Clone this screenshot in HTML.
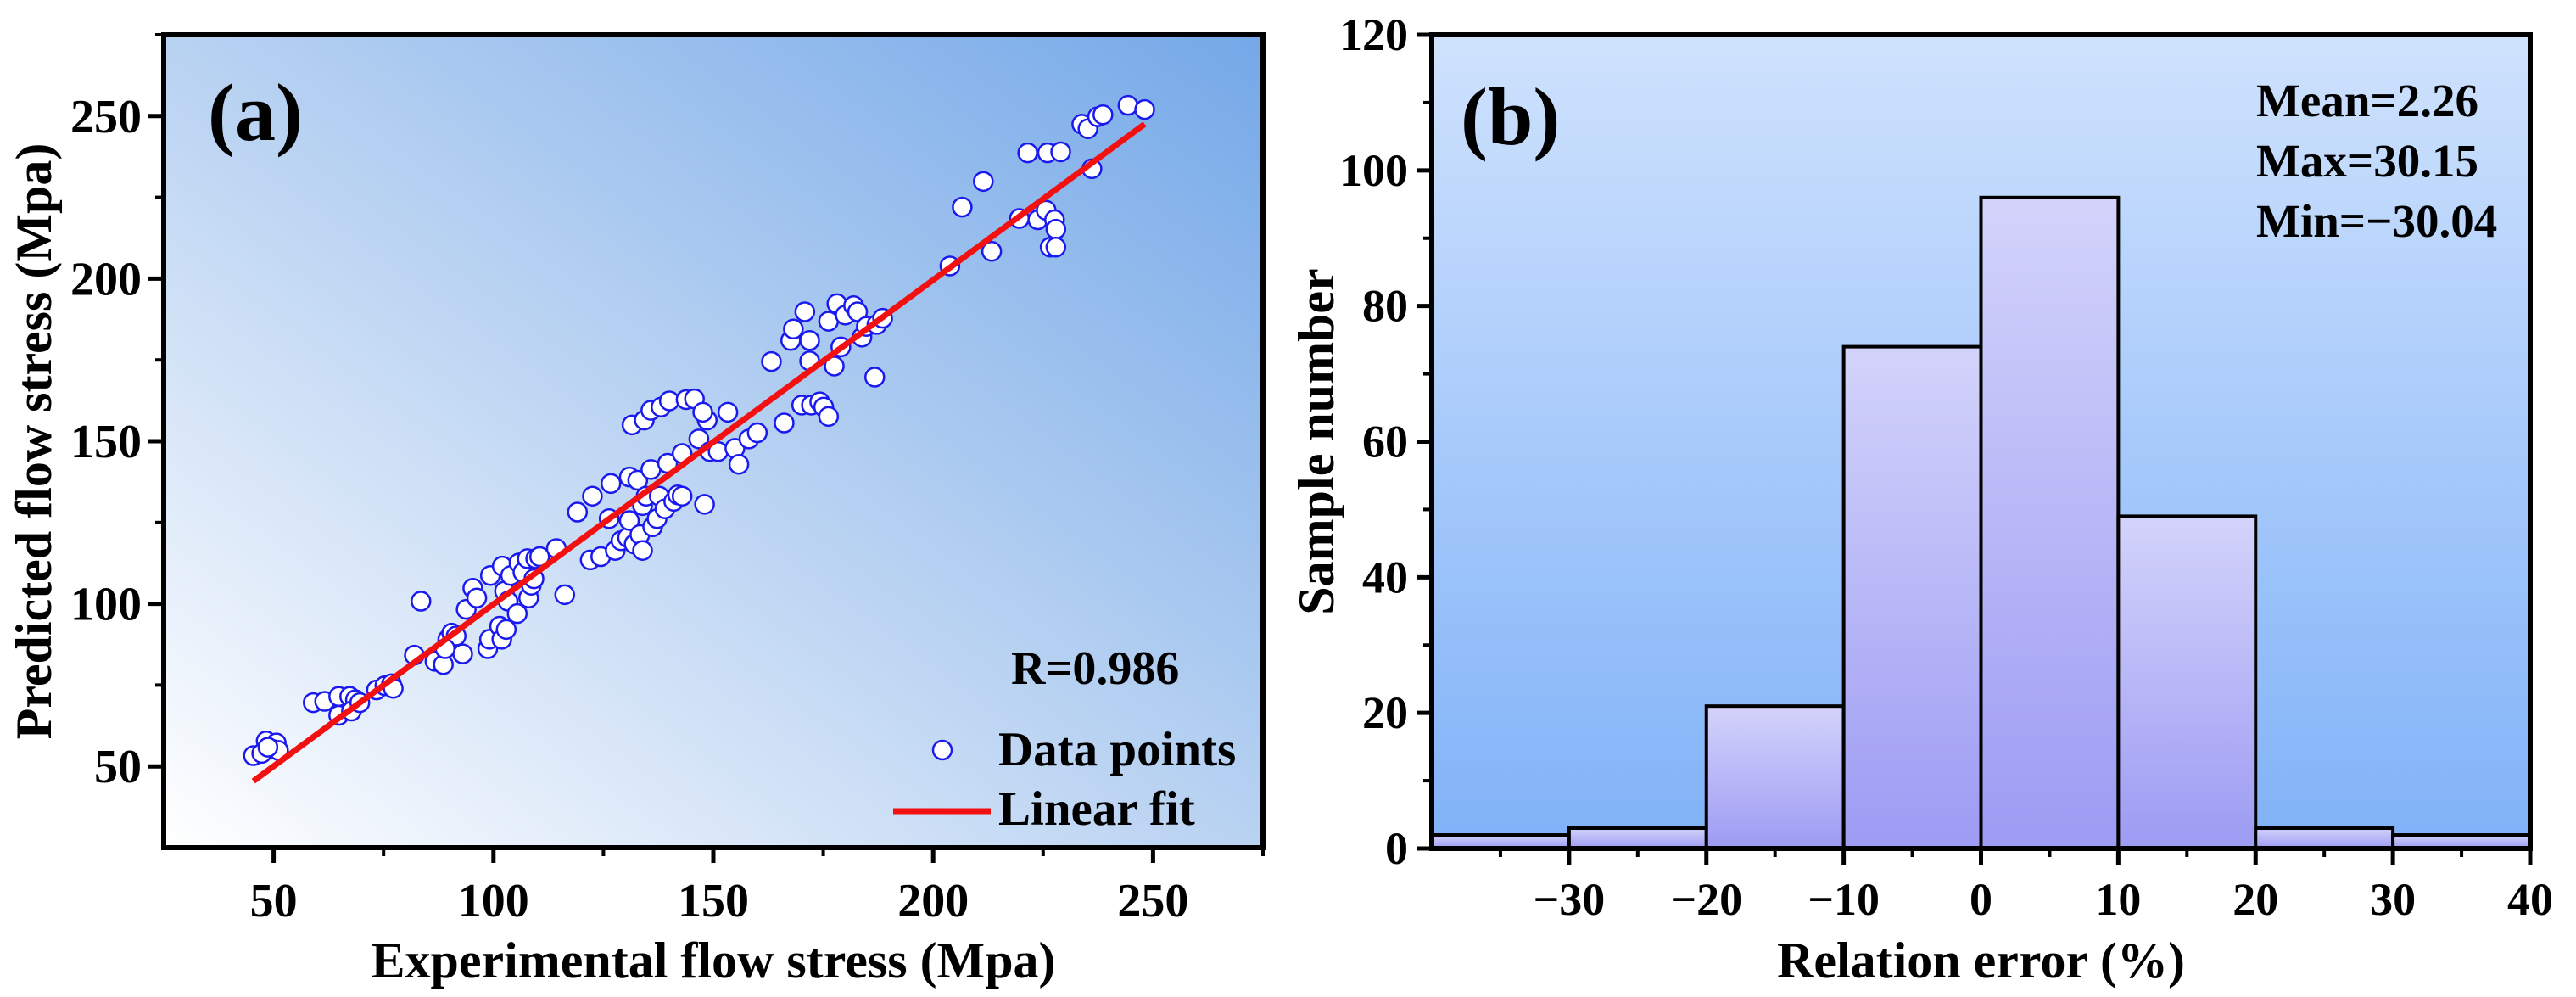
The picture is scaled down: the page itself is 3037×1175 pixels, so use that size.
<!DOCTYPE html>
<html><head><meta charset="utf-8"><style>
html,body{margin:0;padding:0;background:#fff;}
svg{display:block;font-family:"Liberation Serif",serif;font-weight:bold;}
</style></head><body>
<svg id="chart" width="3037" height="1175" viewBox="0 0 3037 1175" xmlns="http://www.w3.org/2000/svg">
<defs>
<linearGradient id="gA" x1="0" y1="1" x2="1" y2="0"><stop offset="0" stop-color="#ffffff"/><stop offset="0.5" stop-color="#b8d2f2"/><stop offset="1" stop-color="#74a8e8"/></linearGradient>
<linearGradient id="gB" x1="0" y1="0" x2="0" y2="1"><stop offset="0" stop-color="#cfe2fd"/><stop offset="1" stop-color="#80b2f8"/></linearGradient>
<linearGradient id="gBar" x1="0" y1="0" x2="0" y2="1"><stop offset="0" stop-color="#d3d3fb"/><stop offset="1" stop-color="#9d9bf3"/></linearGradient>
</defs>
<g id="panelA"></g>
<g id="panelB"></g>
</svg>
<script>
// Panel (a) data
const expX = [45.4,48.3,50.6,49.6,51.1,47.3,48.7,59,61.6,64.8,67.3,68.6,64.8,67.7,69.6,73.4,75.3,76.8,77.2,82,83.5,86.7,88.6,89.6,90.5,91.5,93,89,93.8,95.3,96.2,98.7,99.1,99.3,101.4,101.9,102.5,102.9,103.3,102,103.9,105.8,105.4,106.7,107.7,108,108.6,109.2,109.6,110.5,114.3,116.2,119.1,122,122.5,124.4,126.3,126.7,127.7,129,130.5,130.9,130.9,131.5,132,132.8,133.3,133.9,134.3,133.9,134.7,135.8,135.8,136.2,137.2,138.1,137.7,139,139.6,140,141,141.9,142.9,143.8,142.9,145.7,146.7,148,148.6,147.6,149.2,151.1,153.3,154.9,155.8,158.1,160,163.2,166.1,167.6,168.2,170.1,170.8,171.9,171.9,172.3,174.2,175.1,176.2,176.2,177.5,178.1,179,180,181.9,182.8,183.8,184.8,186.7,187.2,188.5,203.8,206.6,211.4,213.3,219.6,221.5,223.8,225.7,226,226.6,227.6,227.9,227.9,229,233.8,235.2,236.1,237.4,238.6,244.3,248.1];
const predY = [53.3,57.8,57.2,55.3,54.9,54,55.9,69.6,70,71.5,71.5,70.5,65.7,67,69.6,73.5,74.8,75.4,74,84.2,100.8,82.3,81.3,89.1,91,90.1,84.6,86.2,98.3,104.8,101.8,86.2,89.1,108.7,93.1,89.1,103.9,92.1,100.8,111.6,108.7,112.6,97,109.7,113.9,101.8,105.7,107.7,113.9,114.5,117,102.8,128.2,113.5,133.1,114.5,126.2,137,116.4,119.4,120.4,125.6,139,155,118.4,138,121.3,116.4,156.5,130.2,133.1,159.5,141.3,123.7,126.2,160.5,133.1,129.2,143.2,162.4,131.5,133.5,146.2,162.8,133.1,163,150.7,130.6,156.5,158.9,146.8,146.8,158.9,147.8,142.9,150.7,152.6,174.5,155.6,181,184.5,161.1,189.8,181,174.7,161.1,162.1,160.5,157.6,186.9,173.1,192.3,179,188.8,191.7,189.8,182,185.3,169.7,185.9,187.8,203.9,222,229.9,208.4,218.5,238.7,218.1,221,238.7,209.7,218.1,215.2,209.7,239,247.5,246.1,233.8,249.8,250.4,253.3,252];
const fitRange = [45.4, 248.1];
const fitCoef = [0.2, 0.997];
const aTicks = [50,100,150,200,250];
const aTickLabels = ["50","100","150","200","250"];
// Panel (b) data
const binEdges = [-40,-30,-20,-10,0,10,20,30,40];
const binCounts = [2,3,21,74,96,49,3,2];
const bXTicks = [-30,-20,-10,0,10,20,30,40];
const bXLabels = ["\u221230","\u221220","\u221210","0","10","20","30","40"];
const bYTicks = [0,20,40,60,80,100,120];
const bYLabels = ["0","20","40","60","80","100","120"];

const NS="http://www.w3.org/2000/svg";
function mk(parent,tag,attrs,text){const e=document.createElementNS(NS,tag);for(const k in attrs)e.setAttribute(k,attrs[k]);if(text!==undefined)e.textContent=text;parent.appendChild(e);return e;}

// ---- Panel A ----
const A={l:193,r:1489,t:41,b:999,min:25,max:275};
const ax=v=>A.l+(v-A.min)/(A.max-A.min)*(A.r-A.l);
const ay=v=>A.b-(v-A.min)/(A.max-A.min)*(A.b-A.t);
const gA=document.getElementById('panelA');
let e;
e=mk(gA,'rect',{x:A.l,y:A.t,width:A.r-A.l,height:A.b-A.t,fill:'url(#gA)'});


aTicks.forEach((v,i)=>{
 e=mk(gA,'line',{x1:ax(v),x2:ax(v),y1:A.b,y2:A.b+18,stroke:'#000','stroke-width':5});
 
 
 e=mk(gA,'line',{x1:ax(v+25),x2:ax(v+25),y1:A.b,y2:A.b+10,stroke:'#000','stroke-width':4});
 
 
 e=mk(gA,'text',{x:ax(v),y:1080,'text-anchor':'middle','font-size':56},aTickLabels[i]);
 
 
 e=mk(gA,'line',{x1:A.l-18,x2:A.l,y1:ay(v),y2:ay(v),stroke:'#000','stroke-width':5});
 
 
 e=mk(gA,'line',{x1:A.l-10,x2:A.l,y1:ay(v+25),y2:ay(v+25),stroke:'#000','stroke-width':4});
 
 
 e=mk(gA,'text',{x:A.l-26,y:ay(v)+19,'text-anchor':'end','font-size':56},aTickLabels[i]);
 
 
});
expX.forEach((x,i)=>{
 e=mk(gA,'circle',{cx:ax(x),cy:ay(predY[i]),r:11,fill:'#fff',stroke:'#1a1aee','stroke-width':2.5});
 
 
});
e=mk(gA,'line',{x1:ax(fitRange[0]),y1:ay(fitCoef[0]+fitCoef[1]*fitRange[0]),x2:ax(fitRange[1]),y2:ay(fitCoef[0]+fitCoef[1]*fitRange[1]),stroke:'#f21010','stroke-width':7});


e=mk(gA,'rect',{x:A.l,y:A.t,width:A.r-A.l,height:A.b-A.t,fill:'none',stroke:'#000','stroke-width':6});


e=mk(gA,'text',{x:245,y:165,'font-size':96},'(a)');


e=mk(gA,'text',{x:1192,y:806,'font-size':56},'R=0.986');


e=mk(gA,'circle',{cx:1111,cy:884,r:11,fill:'#fff',stroke:'#1a1aee','stroke-width':2.5});


e=mk(gA,'text',{x:1177,y:902,'font-size':57},'Data points');


e=mk(gA,'line',{x1:1053,x2:1168,y1:956,y2:956,stroke:'#f21010','stroke-width':7});


e=mk(gA,'text',{x:1177,y:972,'font-size':57},'Linear fit');


e=mk(gA,'text',{x:(A.l+A.r)/2,y:1152,'text-anchor':'middle','font-size':60},'Experimental flow stress (Mpa)');


e=mk(gA,'text',{x:0,y:0,'text-anchor':'middle','font-size':60,transform:'translate(60,'+(A.t+A.b)/2+') rotate(-90)'},'Predicted flow stress (Mpa)');



// ---- Panel B ----
const B={l:1688,r:2983,t:41,b:1000,xmin:-40,xmax:40,ymin:0,ymax:120};
const bx=v=>B.l+(v-B.xmin)/(B.xmax-B.xmin)*(B.r-B.l);
const by=v=>B.b-(v-B.ymin)/(B.ymax-B.ymin)*(B.b-B.t);
const gB=document.getElementById('panelB');
e=mk(gB,'rect',{x:B.l,y:B.t,width:B.r-B.l,height:B.b-B.t,fill:'url(#gB)'});


binCounts.forEach((c,i)=>{
 e=mk(gB,'rect',{x:bx(binEdges[i]),y:by(c),width:bx(binEdges[i+1])-bx(binEdges[i]),height:by(0)-by(c),fill:'url(#gBar)',stroke:'#000','stroke-width':4});
 
 
});
bXTicks.forEach((v,i)=>{
 e=mk(gB,'line',{x1:bx(v),x2:bx(v),y1:B.b,y2:B.b+20,stroke:'#000','stroke-width':5});
 
 
 e=mk(gB,'line',{x1:bx(v-5),x2:bx(v-5),y1:B.b,y2:B.b+10,stroke:'#000','stroke-width':4});
 
 
 e=mk(gB,'text',{x:bx(v),y:1078,'text-anchor':'middle','font-size':54},bXLabels[i]);
 
 
});
bYTicks.forEach((v,i)=>{
 e=mk(gB,'line',{x1:B.l-18,x2:B.l,y1:by(v),y2:by(v),stroke:'#000','stroke-width':5});
 
 
 if(v<120){
 e=mk(gB,'line',{x1:B.l-10,x2:B.l,y1:by(v+10),y2:by(v+10),stroke:'#000','stroke-width':4});
 
 
 }
 e=mk(gB,'text',{x:B.l-28,y:by(v)+18,'text-anchor':'end','font-size':54},bYLabels[i]);
 
 
});
e=mk(gB,'rect',{x:B.l,y:B.t,width:B.r-B.l,height:B.b-B.t,fill:'none',stroke:'#000','stroke-width':6});


e=mk(gB,'text',{x:1722,y:170,'font-size':96},'(b)');


e=mk(gB,'text',{x:2660,y:137,'font-size':55},'Mean=2.26');


e=mk(gB,'text',{x:2660,y:208,'font-size':55},'Max=30.15');


e=mk(gB,'text',{x:2660,y:279,'font-size':55},'Min=\u221230.04');


e=mk(gB,'text',{x:(B.l+B.r)/2,y:1152,'text-anchor':'middle','font-size':60},'Relation error (%)');


e=mk(gB,'text',{x:0,y:0,'text-anchor':'middle','font-size':60,transform:'translate(1572,'+(B.t+B.b)/2+') rotate(-90)'},'Sample number');


</script>
</body></html>
